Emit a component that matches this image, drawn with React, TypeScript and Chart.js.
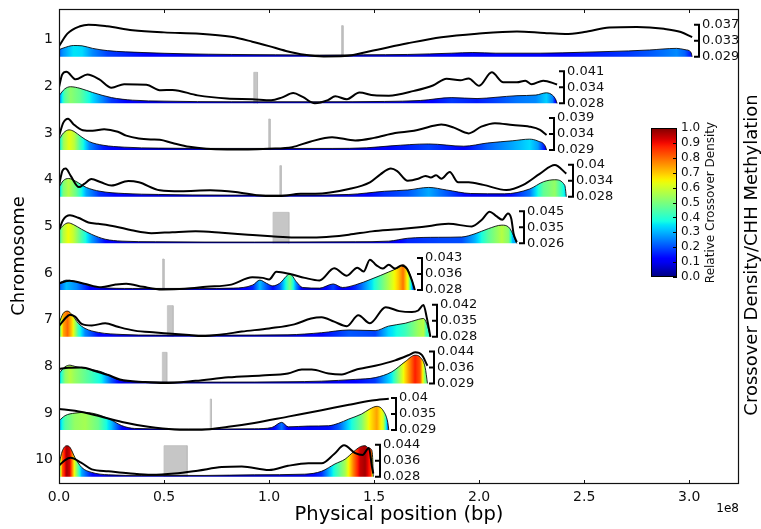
import React, { useEffect, useRef } from "react";
import { Chart, registerables } from "chart.js";
Chart.register(...registerables);

type P = [number, number];

// ---------------- data ----------------
const chromosomes = ["1", "2", "3", "4", "5", "6", "7", "8", "9", "10"];
const chromLengthMb = [301.4, 237.1, 232.1, 241.5, 217.9, 169.4, 176.8, 175.4, 157.0, 149.6];
const bracketHigh = ["0.037", "0.041", "0.039", "0.04", "0.045", "0.043", "0.042", "0.044", "0.04", "0.044"];
const bracketMid = ["0.033", "0.034", "0.034", "0.034", "0.035", "0.036", "0.035", "0.036", "0.035", "0.036"];
const bracketLow = ["0.029", "0.028", "0.029", "0.028", "0.026", "0.028", "0.028", "0.029", "0.029", "0.028"];
const xTickValues = [0, 0.5e8, 1.0e8, 1.5e8, 2.0e8, 2.5e8, 3.0e8];
const colorbarTicks = [0, 0.1, 0.2, 0.3, 0.4, 0.5, 0.6, 0.7, 0.8, 0.9, 1.0];
// centromere start/end (Mb)
const centromereMb: P[] = [
  [134.5, 135.2], [92.7, 94.5], [99.8, 100.5], [105.1, 105.8], [101.9, 109.4],
  [49.3, 50.0], [51.6, 54.3], [49.2, 51.3], [72.0, 72.6], [50.0, 61.0],
];

// CHH methylation: [position Mb, fraction of the bracket range]
const meth1: P[] = [[0,0.33],[4,0.72],[10,0.95],[14,1.0],[23,0.95],[35,0.83],[50,0.76],[67,0.72],[82,0.62],[92,0.47],[100,0.33],[108,0.18],[117,0.06],[126,0.01],[136,0.02],[148,0.17],[166,0.42],[182,0.61],[199,0.72],[218,0.79],[231,0.74],[241,0.71],[250,0.77],[262,0.91],[275,0.93],[288,0.87],[296,0.77],[301.4,0.61]];
const meth2: P[] = [[0,0.5],[1.5,0.9],[3.5,0.99],[8,0.75],[13.5,0.9],[19,0.76],[25,0.49],[31,0.6],[41.6,0.58],[48.5,0.41],[54,0.42],[66,0.25],[80,0.15],[92,0.13],[101,0.1],[106,0.18],[111.5,0.32],[116,0.2],[121.8,0.0],[128,0.1],[131.5,0.22],[137,0.13],[143,0.34],[150,0.25],[157,0.24],[169,0.39],[178,0.56],[184.5,0.77],[191,0.72],[195,0.78],[200,0.55],[206,0.97],[211.5,0.66],[218,0.66],[222,0.71],[225,0.6],[230.5,0.71],[237.1,0.59]];
const meth3: P[] = [[0,0.43],[2,0.85],[4.3,0.98],[7,0.8],[11.3,0.62],[16,0.6],[21.5,0.65],[28,0.57],[32,0.45],[38,0.36],[44,0.33],[48,0.32],[54,0.22],[62,0.1],[70,0.04],[80,0.02],[90,0.02],[100,0.04],[111,0.09],[119.5,0.26],[130,0.4],[141,0.3],[150,0.38],[160,0.53],[169,0.6],[176,0.72],[182,0.8],[188,0.7],[195,0.52],[201,0.73],[207.5,0.84],[216,0.78],[224,0.73],[229,0.63],[232.1,0.47]];
const meth4: P[] = [[0,0.35],[1.7,0.82],[3.2,0.88],[5.5,0.66],[9.5,0.3],[12,0.4],[15.4,0.55],[20,0.45],[25,0.35],[33,0.49],[38,0.45],[48,0.2],[58,0.17],[72,0.2],[84,0.15],[97,0.03],[105,0.02],[115,0.09],[122,0.09],[138,0.24],[148,0.45],[153,0.7],[158,0.88],[161,0.8],[166,0.5],[171,0.56],[174.5,0.65],[177,0.6],[179.5,0.67],[182,0.56],[186,0.77],[190,0.45],[195,0.45],[202,0.37],[213,0.21],[221,0.37],[229,0.72],[236,0.99],[241.5,0.72]];
const meth5: P[] = [[0,0.41],[2,0.74],[5.2,0.88],[9.2,0.8],[14,0.65],[18.7,0.61],[26.7,0.53],[34.6,0.41],[44,0.32],[54,0.35],[65,0.375],[77.5,0.33],[90,0.27],[101,0.22],[112,0.18],[125,0.19],[138,0.27],[149,0.375],[161.6,0.44],[172.7,0.51],[185.4,0.61],[196.5,0.53],[201.3,0.74],[205,0.99],[208,0.86],[211,0.74],[213.7,0.93],[215.3,0.77],[216.4,0.3],[217.9,0.04]];
const meth6: P[] = [[0,0.21],[5,0.29],[12,0.2],[20,0.09],[27,0.17],[32,0.2],[40,0.1],[49,0.02],[60,0.04],[70,0.1],[82,0.17],[92,0.4],[97,0.38],[100,0.33],[103.5,0.57],[110,0.5],[117,0.38],[124,0.3],[131,0.68],[137,0.45],[142,0.7],[145,0.58],[148,0.95],[151,0.78],[154,0.67],[157,0.79],[160,0.67],[163,0.77],[165.6,0.67],[168,0.3],[169.4,0.0]];
const meth7: P[] = [[0,0.33],[2.9,0.57],[5.2,0.69],[7.6,0.63],[10.8,0.4],[15.6,0.35],[22,0.42],[28,0.31],[36,0.19],[46,0.13],[52,0.1],[62,0.05],[68,0.02],[77.5,0.07],[87,0.16],[100,0.26],[112,0.385],[120,0.57],[125,0.61],[131,0.47],[137,0.33],[142.5,0.67],[148,0.42],[155.5,0.92],[162,0.8],[168,0.77],[171,0.82],[173.5,0.99],[175,0.62],[176.8,0.0]];
const meth8: P[] = [[0,0.45],[4.4,0.49],[10.8,0.5],[17.5,0.38],[23.5,0.26],[29,0.12],[41,0.04],[50,0.01],[65,0.08],[80.6,0.19],[96.5,0.25],[109,0.31],[115.6,0.43],[120.3,0.43],[128.3,0.31],[134.6,0.28],[141,0.42],[150.5,0.55],[160,0.72],[166.3,0.88],[169.5,0.97],[172.7,0.89],[175.4,0.55]];
const meth9: P[] = [[0,0.66],[7.6,0.6],[17,0.47],[30,0.25],[42.5,0.1],[55,0.02],[68,0.01],[80.6,0.1],[93,0.22],[109,0.42],[125,0.62],[138,0.79],[149,0.92],[157,0.98]];
const meth10: P[] = [[0,0.35],[2.9,0.52],[5.5,0.59],[10.5,0.44],[15.6,0.23],[23.5,0.17],[33,0.11],[44,0.06],[55,0.1],[66,0.19],[77.5,0.3],[87,0.32],[100,0.21],[109,0.34],[118.7,0.42],[125,0.42],[131,0.71],[135.7,0.98],[141,0.74],[144.5,0.68],[147.5,0.9],[149,0.31],[149.6,0.1]];

// relative crossover density: [position Mb, density 0..1]
const dens1: P[] = [[0,0.22],[2,0.27],[7,0.35],[11,0.34],[16,0.26],[23,0.19],[40,0.13],[60,0.09],[82,0.07],[103,0.06],[124,0.05],[145,0.06],[166,0.07],[187,0.11],[197,0.13],[208,0.11],[229,0.11],[250,0.14],[271,0.18],[281,0.21],[294,0.26],[298,0.22],[300.8,0.14],[301.4,0.0]];
const dens2: P[] = [[0,0.24],[2.7,0.45],[5.5,0.52],[10,0.47],[16,0.34],[25,0.18],[35,0.1],[50,0.07],[82,0.05],[124,0.05],[155,0.06],[172,0.09],[187,0.18],[199,0.15],[208,0.19],[218,0.24],[227,0.26],[232,0.33],[235,0.25],[236.6,0.1],[237.1,0.0]];
const dens3: P[] = [[0,0.33],[2.2,0.54],[4.8,0.63],[7.2,0.58],[10.5,0.42],[14.5,0.26],[21,0.15],[31,0.09],[47.5,0.06],[80,0.05],[130,0.05],[146.5,0.07],[158,0.13],[176,0.19],[192.7,0.12],[204,0.22],[216,0.29],[224,0.34],[228,0.28],[231.5,0.12],[232.1,0.0]];
const dens4: P[] = [[0,0.29],[2,0.5],[4.6,0.57],[8,0.48],[13,0.29],[19.5,0.17],[31,0.1],[47.5,0.07],[80,0.05],[113,0.05],[138,0.07],[155,0.17],[166,0.21],[176,0.29],[184.5,0.21],[196,0.1],[212,0.09],[224,0.24],[230.7,0.47],[236,0.53],[240.8,0.35],[241.5,0.0]];
const dens5: P[] = [[0,0.41],[2,0.56],[4.4,0.64],[6.8,0.59],[10.8,0.44],[15.6,0.28],[22,0.13],[30,0.07],[46,0.05],[93,0.04],[141,0.05],[157,0.07],[166,0.16],[180.6,0.19],[191.7,0.2],[198,0.3],[204.4,0.46],[210.8,0.57],[214,0.51],[216,0.3],[217.9,0.0]];
const dens6: P[] = [[0,0.21],[3.5,0.31],[8.3,0.26],[14.6,0.13],[19.4,0.08],[35,0.05],[67,0.05],[83,0.06],[92.3,0.16],[95.6,0.31],[98.8,0.21],[101.8,0.13],[105,0.21],[110,0.5],[113,0.26],[116,0.08],[124,0.06],[130.5,0.19],[135,0.08],[141,0.16],[149,0.35],[156.8,0.56],[161.6,0.7],[163.8,0.79],[166.3,0.61],[168.3,0.25],[169.4,0.0]];
const dens7: P[] = [[0,0.42],[2,0.73],[4.1,0.8],[6.3,0.68],[9.2,0.42],[12.4,0.26],[18.7,0.135],[30,0.07],[46,0.05],[77.5,0.05],[109,0.06],[125,0.125],[138,0.21],[150.5,0.19],[156.8,0.33],[164.8,0.42],[171,0.54],[173.5,0.57],[175,0.42],[176.8,0.0]];
const dens8: P[] = [[0,0.31],[2.9,0.52],[5.2,0.57],[7.6,0.53],[14,0.45],[20.3,0.36],[25,0.21],[29.8,0.09],[39.4,0.05],[77.5,0.04],[109,0.05],[125,0.07],[141,0.125],[150.5,0.18],[158.4,0.36],[164.8,0.68],[169.5,0.88],[171.9,0.82],[174.3,0.5],[175.4,0.0]];
const dens9: P[] = [[0,0.29],[2.9,0.45],[7.6,0.53],[12.4,0.55],[18.7,0.48],[25,0.31],[29.8,0.14],[36,0.05],[61.6,0.03],[93,0.04],[101.3,0.08],[106,0.24],[109.2,0.1],[118.7,0.125],[128.3,0.135],[133,0.21],[137.8,0.34],[144,0.5],[148,0.66],[151.3,0.74],[154.4,0.6],[156.5,0.24],[157,0.0]];
const dens10: P[] = [[0,0.4],[1.6,0.81],[3.7,0.97],[5.2,0.92],[7.6,0.6],[10.8,0.29],[15.6,0.135],[23.5,0.06],[39.4,0.04],[69.5,0.04],[93,0.06],[117,0.08],[125,0.17],[131.4,0.4],[136.2,0.55],[140.2,0.78],[143.5,0.94],[145.7,0.97],[147.3,0.9],[148.6,0.86],[149.3,0.6],[149.6,0.0]];

const methylation = [meth1, meth2, meth3, meth4, meth5, meth6, meth7, meth8, meth9, meth10];
const density = [dens1, dens2, dens3, dens4, dens5, dens6, dens7, dens8, dens9, dens10];

// ---------------- helpers ----------------
const MB = 1e6;
const X_MAX = 323.7 * MB;
const ROW_H = 0.6857; // row height in "row" units (1 unit = spacing between chromosomes)
const LABEL_OFF = 0.364;
const FONT = "DejaVu Sans";
const baseOf = (i: number) => 9 - i;

function lerpTable(t: number[][], v: number) {
  if (v <= t[0][0]) return t[0][1];
  for (let k = 1; k < t.length; k++) {
    if (v <= t[k][0]) {
      const [x0, y0] = t[k - 1];
      const [x1, y1] = t[k];
      return y0 + ((y1 - y0) * (v - x0)) / (x1 - x0);
    }
  }
  return t[t.length - 1][1];
}
const JR = [[0, 0], [0.35, 0], [0.66, 1], [0.89, 1], [1, 0.5]];
const JG = [[0, 0], [0.125, 0], [0.375, 1], [0.64, 1], [0.91, 0], [1, 0]];
const JB = [[0, 0.5], [0.11, 1], [0.34, 1], [0.65, 0], [1, 0]];
function jet(v: number) {
  const c = Math.max(0, Math.min(1, v));
  const r = Math.round(255 * lerpTable(JR, c));
  const g = Math.round(255 * lerpTable(JG, c));
  const b = Math.round(255 * lerpTable(JB, c));
  return `rgb(${r},${g},${b})`;
}

function densityGradient(i: number) {
  return (ctx: any) => {
    const chart = ctx.chart;
    if (!chart.chartArea || !chart.scales.x) return jet(0.1);
    const xs = chart.scales.x;
    const pts = density[i];
    const p0 = pts[0][0];
    const p1 = pts[pts.length - 1][0];
    const x0 = xs.getPixelForValue(p0 * MB);
    const x1 = xs.getPixelForValue(p1 * MB);
    const g = chart.ctx.createLinearGradient(x0, 0, x1, 0);
    for (let k = 0; k < pts.length - 1; k++) {
      const [pa, va] = pts[k];
      const [pb, vb] = pts[k + 1];
      const last = k === pts.length - 2;
      for (let s = 0; s < 8; s++) {
        const t = s / 8;
        const p = pa + (pb - pa) * t;
        const v = last ? va : va + (vb - va) * t;
        g.addColorStop(Math.min(1, Math.max(0, (p - p0) / (p1 - p0))), jet(v));
      }
    }
    g.addColorStop(1, jet(pts[pts.length - 2][1]));
    return g;
  };
}

// ---------------- plugin for frame, brackets, colorbar, titles ----------------
const decorPlugin = {
  id: "decor",
  afterDraw(chart: any) {
    const { ctx, chartArea: a, scales } = chart;
    const xs = scales.x;
    const ys = scales.y;
    ctx.save();
    // frame
    ctx.strokeStyle = "#111";
    ctx.lineWidth = 1.2;
    ctx.strokeRect(a.left + 0.5, a.top + 0.5, a.right - a.left - 1, a.bottom - a.top - 1);
    // inward x ticks
    ctx.lineWidth = 1;
    xs.ticks.forEach((t: any) => {
      const px = Math.round(xs.getPixelForValue(t.value)) + 0.5;
      ctx.beginPath();
      ctx.moveTo(px, a.bottom);
      ctx.lineTo(px, a.bottom - 4);
      ctx.moveTo(px, a.top);
      ctx.lineTo(px, a.top + 4);
      ctx.stroke();
    });

    // brackets with range labels
    ctx.fillStyle = "#111";
    ctx.font = `13px '${FONT}'`;
    ctx.textAlign = "left";
    ctx.textBaseline = "middle";
    chromosomes.forEach((_, i) => {
      const bx = Math.round(xs.getPixelForValue(chromLengthMb[i] * MB) + 7);
      const yb = ys.getPixelForValue(baseOf(i));
      const yt = ys.getPixelForValue(baseOf(i) + ROW_H);
      const ym = (yb + yt) / 2;
      ctx.strokeStyle = "#000";
      ctx.lineWidth = 2;
      ctx.beginPath();
      ctx.moveTo(bx - 5, yt);
      ctx.lineTo(bx, yt);
      ctx.lineTo(bx, yb);
      ctx.lineTo(bx - 5, yb);
      ctx.moveTo(bx - 5, ym);
      ctx.lineTo(bx, ym);
      ctx.stroke();
      ctx.fillText(bracketHigh[i], bx + 3, yt);
      ctx.fillText(bracketMid[i], bx + 3, ym);
      ctx.fillText(bracketLow[i], bx + 3, yb);
    });

    // colorbar
    const cl = 651, cr = 677, ct = 128, cb = 277;
    const grad = ctx.createLinearGradient(0, cb, 0, ct);
    for (let k = 0; k <= 40; k++) grad.addColorStop(k / 40, jet(k / 40));
    ctx.fillStyle = grad;
    ctx.fillRect(cl, ct, cr - cl, cb - ct);
    ctx.strokeStyle = "#000";
    ctx.lineWidth = 1;
    ctx.strokeRect(cl + 0.5, ct + 0.5, cr - cl - 1, cb - ct - 1);
    ctx.fillStyle = "#111";
    ctx.font = `12px '${FONT}'`;
    ctx.textAlign = "left";
    ctx.textBaseline = "middle";
    colorbarTicks.forEach((v) => {
      const y = cb - v * (cb - ct);
      ctx.beginPath();
      ctx.moveTo(cr, Math.round(y) + 0.5);
      ctx.lineTo(cr - 4, Math.round(y) + 0.5);
      ctx.stroke();
      ctx.fillText(v.toFixed(1), cr + 4, y);
    });
    ctx.save();
    ctx.translate(711, (ct + cb) / 2);
    ctx.rotate(-Math.PI / 2);
    ctx.textAlign = "center";
    ctx.textBaseline = "middle";
    ctx.font = `12px '${FONT}'`;
    ctx.fillText("Relative Crossover Density", 0, 0);
    ctx.restore();

    // axis titles
    ctx.fillStyle = "#000";
    ctx.textAlign = "center";
    ctx.textBaseline = "middle";
    ctx.font = `19.5px '${FONT}'`;
    ctx.fillText("Physical position (bp)", (a.left + a.right) / 2, 515);
    ctx.font = `18px '${FONT}'`;
    ctx.save();
    ctx.translate(19, 256);
    ctx.rotate(-Math.PI / 2);
    ctx.fillText("Chromosome", 0, 0);
    ctx.restore();
    ctx.save();
    ctx.translate(752, 255);
    ctx.rotate(-Math.PI / 2);
    ctx.fillText("Crossover Density/CHH Methylation", 0, 0);
    ctx.restore();
    ctx.font = `12px '${FONT}'`;
    ctx.textAlign = "right";
    ctx.fillText("1e8", a.right, 509);
    ctx.restore();
  },
};

function buildDatasets() {
  const ds: any[] = [];
  chromosomes.forEach((_, i) => {
    const b = baseOf(i);
    const [s, e] = centromereMb[i];
    const top = b + ROW_H * 0.97;
    ds.push({
      type: "line",
      data: [
        { x: s * MB, y: b },
        { x: s * MB, y: top },
        { x: e * MB, y: top },
        { x: e * MB, y: b },
      ],
      fill: { value: b },
      backgroundColor: "#c6c6c6",
      borderColor: "#bdbdbd",
      borderWidth: 0.8,
      pointRadius: 0,
      tension: 0,
      order: 3,
    });
    ds.push({
      type: "line",
      data: density[i].map(([p, v]) => ({ x: p * MB, y: b + v * ROW_H })),
      fill: { value: b },
      backgroundColor: densityGradient(i),
      borderColor: "rgba(0,0,0,0.85)",
      borderWidth: 1,
      pointRadius: 0,
      cubicInterpolationMode: "monotone",
      order: 2,
    });
    ds.push({
      type: "line",
      data: methylation[i].map(([p, v]) => ({ x: p * MB, y: b + v * ROW_H })),
      fill: false,
      borderColor: "#000",
      borderWidth: 2,
      pointRadius: 0,
      cubicInterpolationMode: "monotone",
      order: 1,
    });
  });
  return ds;
}

export default function App() {
  const ref = useRef<HTMLCanvasElement>(null);
  useEffect(() => {
    if (!ref.current) return;
    Chart.defaults.font.family = FONT;
    const chart = new Chart(ref.current, {
      type: "line",
      data: { datasets: buildDatasets() },
      options: {
        animation: false,
        responsive: true,
        maintainAspectRatio: false,
        layout: { padding: { top: 9, right: 22, left: 0, bottom: 0 } },
        plugins: { legend: { display: false }, tooltip: { enabled: false } },
        scales: {
          x: {
            type: "linear",
            min: 0,
            max: X_MAX,
            grid: { display: false, drawTicks: false },
            border: { display: false },
            afterFit: (s: any) => {
              s.height = 45;
              s.paddingLeft = 0;
              s.paddingRight = 0;
            },
            afterBuildTicks: (s: any) => {
              s.ticks = xTickValues.map((v) => ({ value: v }));
            },
            ticks: {
              autoSkip: false,
              maxRotation: 0,
              padding: 5,
              color: "#111",
              font: { size: 14, family: FONT },
              callback: (v: any) => (Number(v) / 1e8).toFixed(1),
            },
          },
          y: {
            type: "linear",
            min: -0.156,
            max: 10.022,
            grid: { display: false, drawTicks: false },
            border: { display: false },
            afterFit: (s: any) => {
              s.width = 59;
              s.paddingTop = 0;
              s.paddingBottom = 0;
            },
            afterBuildTicks: (s: any) => {
              s.ticks = chromosomes.map((_, i) => ({ value: baseOf(i) + LABEL_OFF })).reverse();
            },
            ticks: {
              padding: 6,
              color: "#111",
              font: { size: 14, family: FONT },
              callback: (v: any) => chromosomes[9 - Math.round(Number(v) - LABEL_OFF)],
            },
          },
        },
      },
      plugins: [decorPlugin],
    } as any);
    return () => chart.destroy();
  }, []);
  return (
    <div style={{ position: "absolute", left: 0, top: 0, width: 761, height: 529, background: "#fff" }}>
      <canvas ref={ref} />
    </div>
  );
}
